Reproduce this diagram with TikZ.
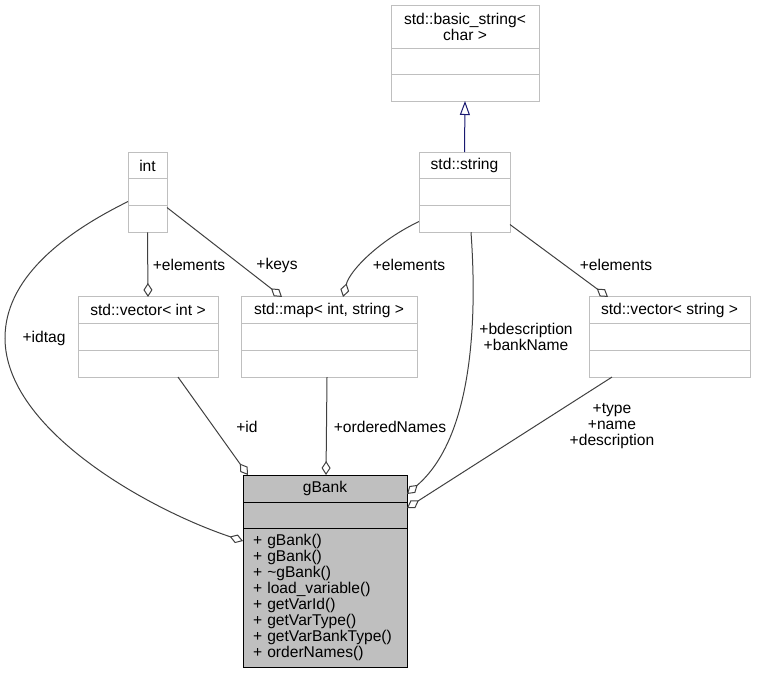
\documentclass[tikz,border=0pt]{standalone}
\usepackage{fontspec}
\setmainfont{Liberation Sans}
\usepackage{xcolor}
\usepackage{tikz}
\usetikzlibrary{arrows.meta}

\definecolor{clsborder}{HTML}{BFBFBF}
\definecolor{clsfill}{HTML}{BFBFBF}
\definecolor{edgegray}{HTML}{404040}
\definecolor{inhblue}{HTML}{191970}
\newcommand{\umlfont}{\fontsize{15.6pt}{16pt}\selectfont}

\tikzset{
  cls/.style={draw=clsborder, fill=white, line width=1pt, inner sep=2pt, outer sep=0pt,
    minimum height=26.7pt, align=center, font=\umlfont},
  clsmain/.style={cls, draw=black, fill=clsfill},
  agg/.style={draw=edgegray, line width=1pt, -{Diamond[open,length=14pt,width=9pt]}},
  inh/.style={draw=inhblue, line width=1pt, -{Triangle[open,length=14pt,width=10pt]}},
  lbl/.style={align=center, inner sep=0pt, font=\umlfont},
}

\begin{document}
\begin{tikzpicture}[x=1pt, y=-1pt]
    \useasboundingbox (0,0) rectangle (757,673);
    % classes
    \node[cls, minimum width=148pt, minimum height=43pt] (bstr) at (465,26.5) {std::basic\_string<\\char >};
    \node[cls, minimum width=148pt, minimum height=26.5pt, anchor=north] (bstr-b) at (bstr.south) {};
    \node[cls, minimum width=148pt, minimum height=26.5pt, anchor=north] (bstr-c) at (bstr-b.south) {};
    \node[cls, minimum width=91pt] (str) at (464.5,165.5) {std::string};
    \node[cls, minimum width=91pt, anchor=north] (str-b) at (str.south) {};
    \node[cls, minimum width=91pt, anchor=north] (str-c) at (str-b.south) {};
    \node[cls, minimum width=39pt] (int) at (147.5,165.5) {int};
    \node[cls, minimum width=39pt, anchor=north] (int-b) at (int.south) {};
    \node[cls, minimum width=39pt, anchor=north] (int-c) at (int-b.south) {};
    \node[cls, minimum width=140pt] (vint) at (148,310.3) {std::vector< int >};
    \node[cls, minimum width=140pt, anchor=north] (vint-b) at (vint.south) {};
    \node[cls, minimum width=140pt, anchor=north] (vint-c) at (vint-b.south) {};
    \node[cls, minimum width=176pt] (map) at (329,310.3) {std::map< int, string >};
    \node[cls, minimum width=176pt, anchor=north] (map-b) at (map.south) {};
    \node[cls, minimum width=176pt, anchor=north] (map-c) at (map-b.south) {};
    \node[cls, minimum width=161pt] (vstr) at (669.5,310.3) {std::vector< string >};
    \node[cls, minimum width=161pt, anchor=north] (vstr-b) at (vstr.south) {};
    \node[cls, minimum width=161pt, anchor=north] (vstr-c) at (vstr-b.south) {};
    \node[clsmain, minimum width=164pt, minimum height=27pt] (gBank) at (325,488.5) {gBank};
    \node[clsmain, minimum width=164pt, minimum height=26pt, anchor=north] (gBank-b) at (gBank.south) {};
    \node[clsmain, minimum height=139pt, inner xsep=10pt, text width=144pt, align=left, anchor=north] (gBank-c) at (gBank-b.south)
      {+ gBank()\\+ gBank()\\+ \textasciitilde gBank()\\+ load\_variable()\\+ getVarId()\\+ getVarType()\\+ getVarBankType()\\+ orderNames()};
    % inheritance
    \draw[inh] (str.north) -- (bstr-c.south);
    % members
    \draw[agg] (int-c.south) -- (vint.north);
    \draw[agg] ([yshift=-2pt]int-c.north east) -- ([xshift=41pt]map.north west);
    \draw[agg] ([yshift=-16pt]str-c.north west) .. controls (380,240) and (350,270) .. ([xshift=102pt]map.north west);
    \draw[agg] ([yshift=-19pt]str-c.north east) -- ([xshift=19pt]vstr.north west);
    \draw[agg] ([xshift=6.5pt]str-c.south) .. controls (478,330) and (470,440) .. ([yshift=-19pt]gBank.north east);
    \draw[agg] ([xshift=23pt]vstr-c.south west) -- ([yshift=-6pt]gBank-b.north east);
    \draw[agg] ([xshift=86pt]map-c.south west) -- ([xshift=83pt]gBank.north west);
    \draw[agg] ([xshift=100pt]vint-c.south west) -- ([xshift=5pt]gBank.north west);
    \draw[agg] ([yshift=4pt]int-b.south west) .. controls (60,235) and (5,280) .. (5,338)
      .. controls (5,430) and (150,510) .. ([yshift=-13pt]gBank-c.north west);
    % labels
    \node[lbl] (l-vint) at (189,265) {+elements};
    \node[lbl] (l-keys) at (277,265) {+keys};
    \node[lbl] (l-map) at (409,265) {+elements};
    \node[lbl] (l-vstr) at (616,265) {+elements};
    \node[lbl] (l-bank) at (526,337) {+bdescription\\+bankName};
    \node[lbl] (l-type) at (612,426) {+type\\+name\\+description};
    \node[lbl] (l-order) at (390,427) {+orderedNames};
    \node[lbl] (l-id) at (247,427) {+id};
    \node[lbl] (l-idtag) at (44,338) {+idtag};
\end{tikzpicture}
\end{document}
